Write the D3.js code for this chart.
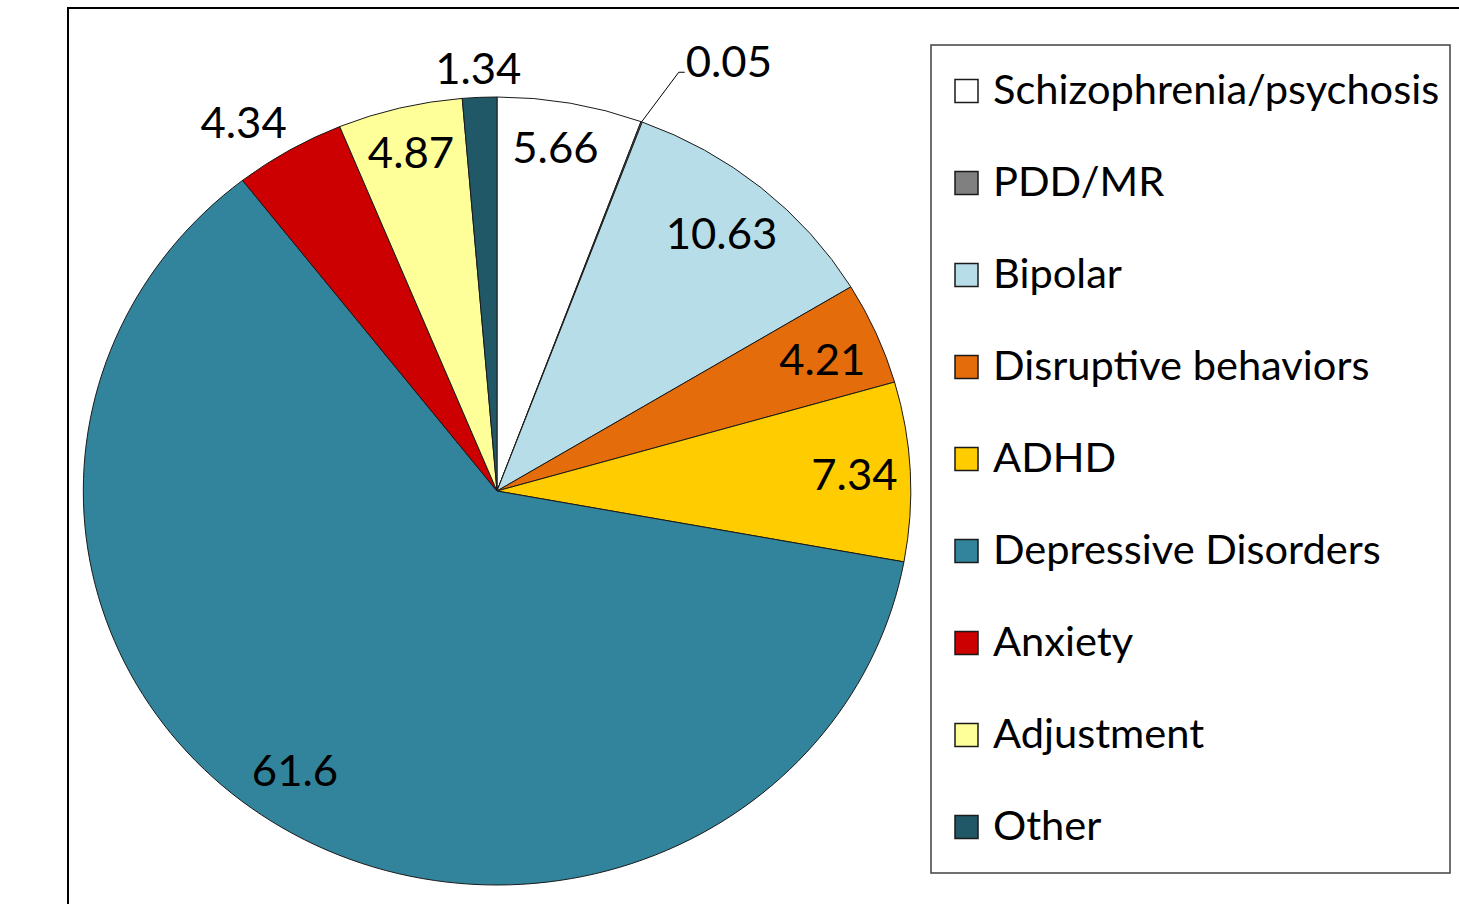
<!DOCTYPE html>
<html>
<head>
<meta charset="utf-8">
<script src="https://cdn.jsdelivr.net/npm/d3@7"></script>
<style>
  html, body { margin: 0; padding: 0; background: #fff; }
  svg { display: block; }
</style>
</head>
<body>
<svg id="chart" width="1459" height="904"></svg>
<script>
const categories = [
    "Schizophrenia/psychosis",
    "PDD/MR",
    "Bipolar",
    "Disruptive behaviors",
    "ADHD",
    "Depressive Disorders",
    "Anxiety",
    "Adjustment",
    "Other",
];
const values = [5.66, 0.05, 10.63, 4.21, 7.34, 61.6, 4.34, 4.87, 1.34];
const colors = [
    "#ffffff", "#808080", "#b7dde8", "#e46c0a", "#ffcc00",
    "#31849b", "#cc0000", "#ffff99", "#215868",
];

const width = 1459;
const height = 904;
const cx = 497;
const cy = 491;
const radius = 394;
const stretchX = 1.05; // the source picture is a little wider than tall
const fontFamily = "Lato, 'Open Sans', sans-serif";

// label placement: radius as a share of the pie radius, angle nudge in degrees
const labelPlacement = {
    "Schizophrenia/psychosis": { r: 0.885, da: -1 },
    "Bipolar": { r: 0.85, da: 0 },
    "Disruptive behaviors": { r: 0.855, da: 0.5 },
    "Depressive Disorders": { r: 0.86, da: 3.4 },
    "Anxiety": { r: 1.12, da: -3 },
    "Adjustment": { r: 0.885, da: 0 },
    "Other": { r: 1.076, da: 0 },
};
const leaderLabels = {
    "PDD/MR": { r: 1.15, da: 2 },
};

const svg = d3.select("#chart");
const rows = categories.map((c, i) => ({ name: c, value: values[i], color: colors[i] }));

// outer frame, cut by the picture edges
svg.append("path")
    .attr("d", `M68,${height + 5} L68,8 L${width + 5},8`)
    .attr("fill", "none")
    .attr("stroke", "#000")
    .attr("stroke-width", 2);

const pie = d3.pie().sort(null).value((d) => d.value);
const arcs = pie(rows);
const arc = d3.arc().innerRadius(0).outerRadius(radius);

const pieG = svg.append("g")
    .attr("transform", `translate(${cx},${cy}) scale(${stretchX},1)`);

pieG.selectAll("path")
    .data(arcs)
    .join("path")
    .attr("d", arc)
    .attr("fill", (d) => d.data.color)
    .attr("stroke", "#1a1a1a")
    .attr("stroke-width", 1)
    .attr("vector-effect", "non-scaling-stroke");

function polar(angle, r) {
    return [cx + Math.sin(angle) * r * stretchX, cy - Math.cos(angle) * r];
}

// text drawn with the same horizontal stretch as the picture
function stretchedText(parent, x, y, anchor, str) {
    return parent.append("text")
        .attr("transform", `translate(${x},${y}) scale(1.04,1)`)
        .attr("text-anchor", anchor)
        .attr("dominant-baseline", "central")
        .text(str);
}

const labelG = svg.append("g")
    .attr("font-family", fontFamily)
    .attr("font-size", 42)
    .attr("fill", "#000");

arcs.forEach((d) => {
    const mid = (d.startAngle + d.endAngle) / 2;
    const name = d.data.name;
    const text = String(d.data.value);
    if (leaderLabels[name]) {
        const opt = leaderLabels[name];
        const a = mid + (opt.da * Math.PI) / 180;
        const p0 = polar(mid, radius);
        const p1 = polar(a, radius * opt.r);
        labelG.append("path")
            .attr("d", `M${p0[0]},${p0[1]} L${p1[0]},${p1[1]} L${p1[0] + 6},${p1[1]}`)
            .attr("fill", "none")
            .attr("stroke", "#000")
            .attr("stroke-width", 1);
        stretchedText(labelG, p1[0] + 7, p1[1] - 11, "start", text);
    } else {
        const opt = labelPlacement[name] || { r: 0.865, da: 0 };
        const a = mid + (opt.da * Math.PI) / 180;
        const p = polar(a, radius * opt.r);
        stretchedText(labelG, p[0], p[1], "middle", text);
    }
});

// legend
const legend = { x: 931, y: 45, w: 519, h: 828, rowStep: 92, firstRow: 46 };

svg.append("rect")
    .attr("x", legend.x)
    .attr("y", legend.y)
    .attr("width", legend.w)
    .attr("height", legend.h)
    .attr("fill", "#fff")
    .attr("stroke", "#404040")
    .attr("stroke-width", 1.5);

const items = svg.append("g")
    .attr("font-family", fontFamily)
    .attr("font-size", 40)
    .attr("fill", "#000")
    .selectAll("g")
    .data(rows)
    .join("g")
    .attr("transform", (d, i) => `translate(${legend.x},${legend.y + legend.firstRow + i * legend.rowStep})`);

items.append("rect")
    .attr("x", 24)
    .attr("y", -11.5)
    .attr("width", 23)
    .attr("height", 23)
    .attr("fill", (d) => d.color)
    .attr("stroke", "#1a1a1a")
    .attr("stroke-width", 1.5);

items.each(function (d) {
    stretchedText(d3.select(this), 62, -2, "start", d.name);
});
</script>
</body>
</html>
